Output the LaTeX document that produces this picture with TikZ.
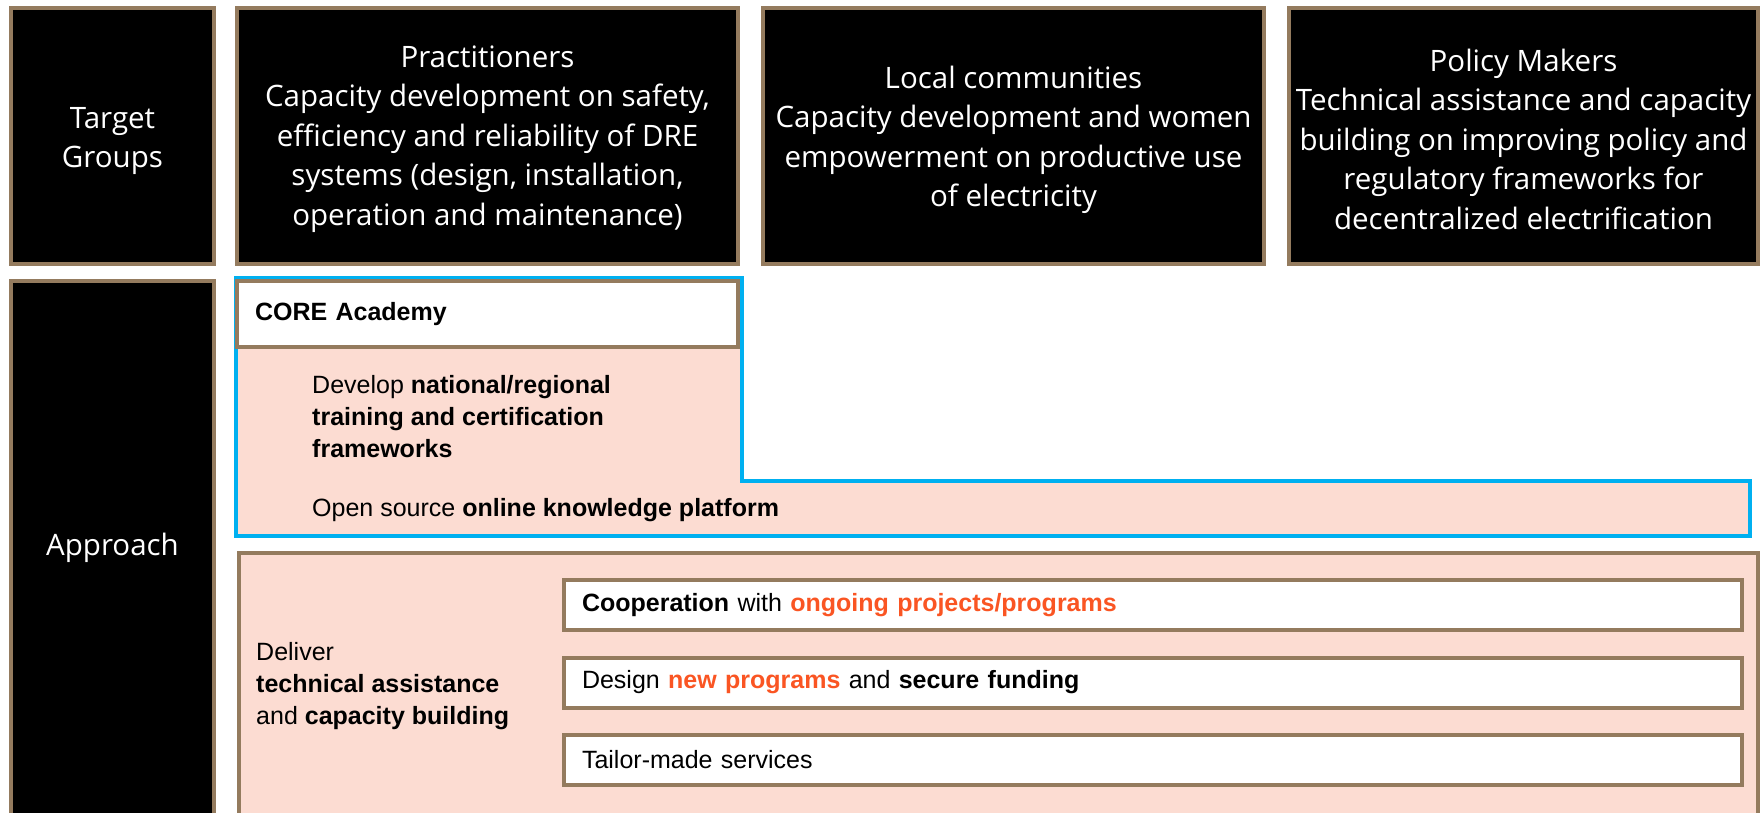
\documentclass[tikz,border=0pt]{standalone}
\usepackage{fontspec}
\setmainfont{Liberation Sans}
\newfontfamily\segfont{Open Sans}
\definecolor{brownb}{RGB}{148,123,94}
\definecolor{bluel}{RGB}{0,176,240}
\definecolor{pinkf}{RGB}{252,220,210}
\definecolor{orangt}{RGB}{250,85,35}
\tikzset{
  blackbox/.style={fill=black, draw=brownb, line width=4pt, inner sep=0pt},
  wtext/.style={text=white, font=\segfont\fontsize{29.5}{39.5}\selectfont, align=center, inner sep=0pt},
  whitebox/.style={fill=white, draw=brownb, line width=4pt, inner xsep=18pt, inner ysep=0pt,
    align=left, font=\fontsize{25}{32}\selectfont, text=black},
  lbl/.style={font=\fontsize{25}{32}\selectfont, inner sep=0pt, anchor=west, align=left, text=black}
}
\newcommand{\org}[1]{\textcolor{orangt}{\textbf{#1}}}
\begin{document}
\begin{tikzpicture}[x=1pt,y=-1pt]
\clip (0,0) rectangle (1763,812);
\fill[white] (0,0) rectangle (1763,812);
% top row
\node[blackbox, minimum width=203pt, minimum height=256pt] (tg) at (112.5,136) {};
\node[blackbox, minimum width=501pt, minimum height=256pt] (prac) at (487.5,136) {};
\node[blackbox, minimum width=501pt, minimum height=256pt] (loc) at (1013.5,136) {};
\node[blackbox, minimum width=469pt, minimum height=256pt] (pol) at (1523.5,136) {};
\node[wtext, yshift=-5pt] (tgt) at (tg.center) {Target\\Groups};
\node[wtext, yshift=-3pt] (pract) at (prac.center)
  {Practitioners\\Capacity development on safety,\\efficiency and reliability of DRE\\systems (design, installation,\\operation and maintenance)};
\node[wtext, yshift=-4pt] (loct) at (loc.center)
  {Local communities\\Capacity development and women\\empowerment on productive use\\of electricity};
\node[wtext, yshift=-3pt] (polt) at (pol.center)
  {Policy Makers\\Technical assistance and capacity\\building on improving policy and\\regulatory frameworks for\\decentralized electrification};
% approach column
\node[blackbox, minimum width=203pt, minimum height=537pt] (appr) at (112.5,549.5) {};
\node[wtext] (apprt) at (112.5,548) {Approach};
% CORE Academy region
\coordinate (b1) at (236,278);
\coordinate (b2) at (742,278);
\coordinate (b3) at (742,481);
\coordinate (b4) at (1750,481);
\coordinate (b5) at (1750,536);
\coordinate (b6) at (236,536);
\draw[bluel, line width=4.5pt, fill=pinkf] (b1) -- (b2) -- (b3) -- (b4) -- (b5) -- (b6) -- cycle;
\node[whitebox, text width=465pt, minimum height=66pt] (core) at (487.5,314) {\textbf{CORE Academy}};
\node[lbl] (dev) at (312,417) {Develop \textbf{national/regional}\\\textbf{training and certification}\\\textbf{frameworks}};
\node[lbl] (open) at (312,510) {Open source \textbf{online knowledge platform}};
% Deliver region
\node[draw=brownb, fill=pinkf, line width=4pt, minimum width=1519pt, minimum height=290pt,
  anchor=north west, inner sep=0pt] (deliv) at (237,551) {};
\node[lbl] (dtxt) at (256,686) {Deliver\\\textbf{technical assistance}\\and \textbf{capacity building}};
\node[whitebox, text width=1142pt, minimum height=50pt] (coop) at (1153,605)
  {\textbf{Cooperation} with \org{ongoing projects/programs}};
\node[whitebox, text width=1142pt, minimum height=50pt] (design) at (1153,682.5)
  {Design \org{new programs} and \textbf{secure funding}};
\node[whitebox, text width=1142pt, minimum height=50pt] (tailor) at (1153,759.5)
  {Tailor-made services};
\end{tikzpicture}
\end{document}
